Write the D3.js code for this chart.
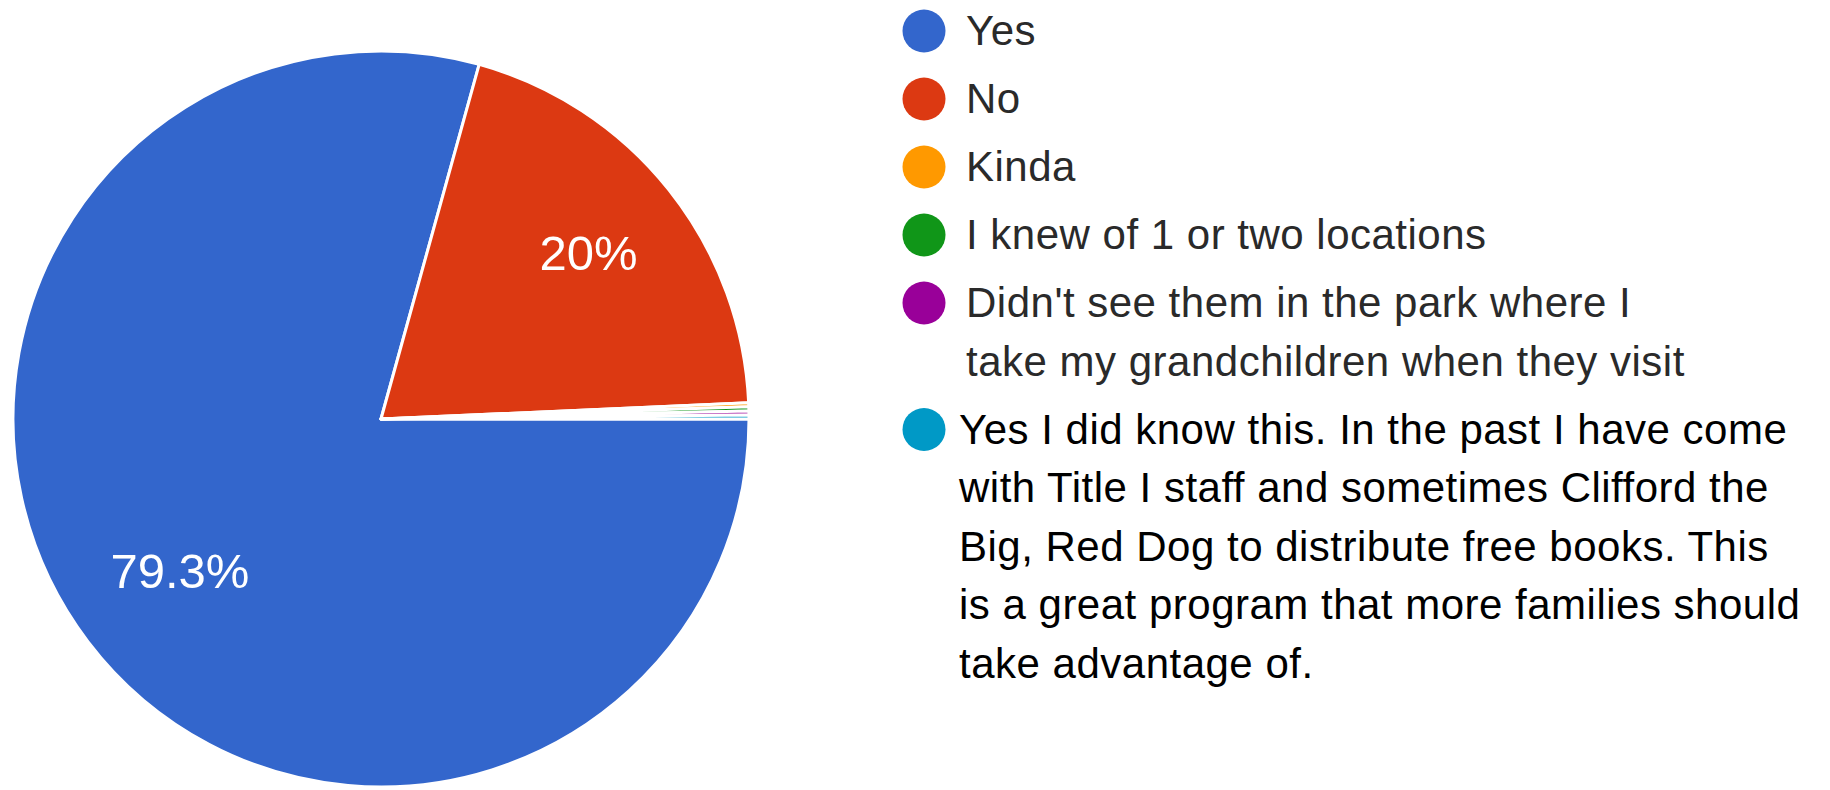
<!DOCTYPE html>
<html>
<head>
<meta charset="utf-8">
<script src="https://cdn.jsdelivr.net/npm/d3@7"></script>
<style>
  html, body { margin: 0; padding: 0; background: #fff; }
  svg { display: block; font-family: Arial, "Liberation Sans", sans-serif; }
</style>
</head>
<body>
<svg id="chart" width="1830" height="790"></svg>
<script>
// Survey answers, in legend order
const categories = [
  "Yes",
  "No",
  "Kinda",
  "I knew of 1 or two locations",
  "Didn't see them in the park where I\ntake my grandchildren when they visit",
  "Yes I did know this. In the past I have come\nwith Title I staff and sometimes Clifford the\nBig, Red Dog to distribute free books. This\nis a great program that more families should\ntake advantage of."
];
// Number of responses per answer
const responses = [452, 114, 1, 1, 1, 1];
// Slice colours
const palette = ["#3366cc", "#dc3912", "#ff9900", "#109618", "#990099", "#0099c6"];

const svg = d3.select("#chart");
const W = 1830, H = 790;
svg.append("rect").attr("width", W).attr("height", H).attr("fill", "#fff");

const cx = 381, cy = 419, radius = 368;
const total = d3.sum(responses);
const color = d3.scaleOrdinal().domain(categories).range(palette);
const pct = d3.format(".3~p");

const pie = d3.pie()
  .sort(null)
  .value(d => d.value)
  .startAngle(Math.PI / 2)
  .endAngle(Math.PI / 2 + 2 * Math.PI);

const rows = categories.map((c, i) => ({ name: c, value: responses[i] }));
const arcs = pie(rows);

const arc = d3.arc().innerRadius(0).outerRadius(radius);
const labelArc = d3.arc().innerRadius(259).outerRadius(259);

const g = svg.append("g").attr("transform", `translate(${cx},${cy})`);

g.selectAll("path.slice")
  .data(arcs)
  .join("path")
  .attr("class", "slice")
  .attr("d", arc)
  .attr("fill", d => color(d.data.name))
  .attr("stroke", "#fff")
  .attr("stroke-width", 3)
  .attr("stroke-linejoin", "round");

// Percentage labels on the larger slices only
g.selectAll("text.pct")
  .data(arcs.filter(d => d.data.value / total >= 0.05))
  .join("text")
  .attr("class", "pct")
  .attr("transform", d => {
    const [x, y] = labelArc.centroid(d);
    return `translate(${x + 5},${y - 5})`;
  })
  .attr("text-anchor", "middle")
  .attr("dominant-baseline", "central")
  .attr("fill", "#fff")
  .attr("font-size", 49)
  .text(d => pct(d.data.value / total));

// Legend
const legend = svg.append("g");
const lineHeight = 58.5, itemGap = 68;
let baseline = 45;
categories.forEach((name, i) => {
  const lines = name.split("\n");
  const last = i === categories.length - 1;
  const tx = last ? 959 : 966;
  const item = legend.append("g");
  item.append("circle")
    .attr("cx", 924)
    .attr("cy", baseline - 14)
    .attr("r", 21.5)
    .attr("fill", color(name));
  const text = item.append("text")
    .attr("x", tx)
    .attr("y", baseline)
    .attr("font-size", 42)
    .attr("letter-spacing", 0.5)
    .attr("fill", last ? "#000" : "#2a2a2a");
  lines.forEach((ln, j) => {
    text.append("tspan")
      .attr("x", tx)
      .attr("y", baseline + j * lineHeight)
      .text(ln);
  });
  baseline += (lines.length - 1) * lineHeight + itemGap;
});
</script>
</body>
</html>
